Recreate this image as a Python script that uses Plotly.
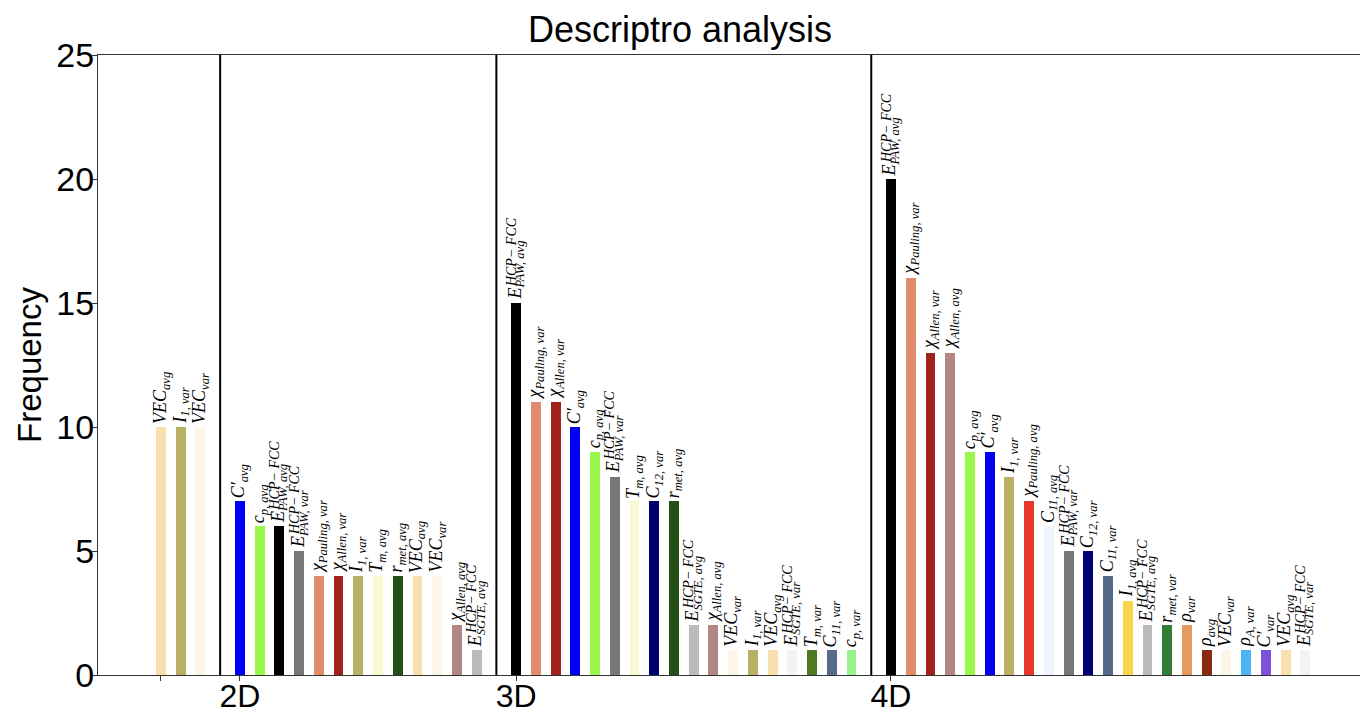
import plotly.graph_objects as go

# ---------------- data ----------------
group_names = ["", "2D", "3D", "4D"]

features_1d = ["VEC_avg", "I1_var", "VEC_var"]
values_1d = [10, 10, 10]

features_2d = ["C_avg", "cp_avg", "E_PAW_avg", "E_PAW_var", "chiP_var", "chiA_var",
               "I1_var", "Tm_avg", "rmet_avg", "VEC_avg", "VEC_var", "chiA_avg", "E_SGTE_avg"]
values_2d = [7, 6, 6, 5, 4, 4, 4, 4, 4, 4, 4, 2, 1]

features_3d = ["E_PAW_avg", "chiP_var", "chiA_var", "C_avg", "cp_avg", "E_PAW_var",
               "Tm_avg", "C12_var", "rmet_avg", "E_SGTE_avg", "chiA_avg", "VEC_var",
               "I1_var", "VEC_avg", "E_SGTE_var", "Tm_var", "C11_var", "cp_var"]
values_3d = [15, 11, 11, 10, 9, 8, 7, 7, 7, 2, 2, 1, 1, 1, 1, 1, 1, 1]

features_4d = ["E_PAW_avg", "chiP_var", "chiA_var", "chiA_avg", "cp_avg", "C_avg",
               "I1_var", "chiP_avg", "C11_avg", "E_PAW_var", "C12_var", "C11_var",
               "I1_avg", "E_SGTE_avg", "rmet_var", "rho_var", "rho_avg", "VEC_var",
               "rhoA_var", "C_var", "VEC_avg", "E_SGTE_var"]
values_4d = [20, 16, 13, 13, 9, 9, 8, 7, 6, 5, 5, 4, 3, 2, 2, 2, 1, 1, 1, 1, 1, 1]

# ---------------- styles ----------------
colors = {
    "VEC_avg": "#F7DFB0", "I1_var": "#B8B065", "VEC_var": "#FDF6E8",
    "C_avg": "#0000F5", "cp_avg": "#99F74B", "E_PAW_avg": "#000000",
    "E_PAW_var": "#787878", "chiP_var": "#DF8B6C", "chiA_var": "#A1221A",
    "Tm_avg": "#FAF8D2", "rmet_avg": "#234F15", "chiA_avg": "#B38585",
    "E_SGTE_avg": "#BBBBBB", "C12_var": "#000070", "Tm_var": "#4E7A22",
    "C11_var": "#55698A", "cp_var": "#99F38C", "E_SGTE_var": "#F3F3F3",
    "chiP_avg": "#E8372B", "C11_avg": "#EEF5FE", "I1_avg": "#F8D44A",
    "rmet_var": "#327E36", "rho_var": "#E79A5C", "rho_avg": "#8A2A12",
    "rhoA_var": "#4DB4F6", "C_var": "#7C52DA",
}

labels = {
    "VEC_avg": "VEC<sub>avg</sub>", "I1_var": "I<sub>1, var</sub>",
    "VEC_var": "VEC<sub>var</sub>", "C_avg": "C′<sub>avg</sub>",
    "cp_avg": "c<sub>p, avg</sub>", "chiP_var": "χ<sub>Pauling, var</sub>",
    "chiA_var": "χ<sub>Allen, var</sub>", "Tm_avg": "T<sub>m, avg</sub>",
    "rmet_avg": "r<sub>met, avg</sub>", "chiA_avg": "χ<sub>Allen, avg</sub>",
    "C12_var": "C<sub>12, var</sub>", "Tm_var": "T<sub>m, var</sub>",
    "C11_var": "C<sub>11, var</sub>", "cp_var": "c<sub>p, var</sub>",
    "chiP_avg": "χ<sub>Pauling, avg</sub>", "C11_avg": "C<sub>11, avg</sub>",
    "I1_avg": "I<sub>1, avg</sub>", "rmet_var": "r<sub>met, var</sub>",
    "rho_var": "ρ<sub>var</sub>", "rho_avg": "ρ<sub>avg</sub>",
    "rhoA_var": "ρ<sub>A, var</sub>", "C_var": "C′<sub>var</sub>",
    "E_PAW_avg": "E<sub>PAW, avg</sub>", "E_PAW_var": "E<sub>PAW, var</sub>",
    "E_SGTE_avg": "E<sub>SGTE, avg</sub>", "E_SGTE_var": "E<sub>SGTE, var</sub>",
}
sup_labels = {"E_PAW_avg": "HCP− FCC", "E_PAW_var": "HCP− FCC",
              "E_SGTE_avg": "HCP− FCC", "E_SGTE_var": "HCP− FCC"}

groups = [(features_1d, values_1d), (features_2d, values_2d),
          (features_3d, values_3d), (features_4d, values_4d)]

# ---------------- build positions ----------------
xs, ys, feats = [], [], []
tickvals, separators = [], []
start = 0
for i, (f, v) in enumerate(groups):
    tickvals.append(start)
    for k in range(len(f)):
        xs.append(start + k)
        ys.append(v[k])
        feats.append(f[k])
    if i < len(groups) - 1:
        separators.append(start + len(f))
    start = start + len(f) + 1

fig = go.Figure()
fig.add_trace(go.Bar(
    x=xs, y=ys, width=0.5,
    marker=dict(color=[colors[f] for f in feats], line=dict(width=0)),
    showlegend=False, hoverinfo="x+y",
))

label_font = dict(family="Liberation Serif", size=18, color="black", style="italic")
sup_font = dict(family="Liberation Serif", size=14, color="black", style="italic")
annotations = []
for x, y, f in zip(xs, ys, feats):
    annotations.append(dict(
        x=x, y=y, xref="x", yref="y", text=labels[f], showarrow=False,
        textangle=-90, xanchor="center", yanchor="bottom", yshift=1,
        font=label_font,
    ))
    if f in sup_labels:
        annotations.append(dict(
            x=x, y=y, xref="x", yref="y", text=sup_labels[f], showarrow=False,
            textangle=-90, xanchor="center", yanchor="bottom", yshift=14, xshift=-5,
            font=sup_font,
        ))

shapes = [dict(type="line", xref="x", yref="paper", x0=s, x1=s, y0=0, y1=1,
               line=dict(color="black", width=2)) for s in separators]

fig.update_layout(
    width=1360, height=714,
    margin=dict(l=98, r=0, t=55, b=39, autoexpand=False),
    paper_bgcolor="white", plot_bgcolor="white",
    title=dict(text="Descriptro analysis", x=0.5, xref="container", xanchor="center",
               y=1 - 29 / 714, yref="container", yanchor="middle",
               font=dict(family="Liberation Sans", size=36, color="black")),
    xaxis=dict(range=[-3.19, 60.77], tickvals=tickvals, ticktext=group_names,
               ticks="outside", ticklen=5, tickcolor="#333", showgrid=False,
               zeroline=False, showline=True, linecolor="#333", linewidth=1,
               mirror=True, ticklabelstandoff=-12,
               tickfont=dict(family="Liberation Sans", size=32, color="black"),
               automargin=False),
    yaxis=dict(range=[0, 25], tickvals=[0, 5, 10, 15, 20, 25], ticks="outside",
               ticklen=5, tickcolor="#333", showgrid=False, zeroline=False,
               showline=True, linecolor="#333", linewidth=1,
               ticklabelstandoff=-9, automargin=False,
               tickfont=dict(family="Liberation Sans", size=34, color="black"),
               title=dict(text="Frequency", standoff=4,
                          font=dict(family="Liberation Sans", size=33, color="black"))),
    annotations=annotations, shapes=shapes, bargap=0,
)

fig.write_html("out.html")
